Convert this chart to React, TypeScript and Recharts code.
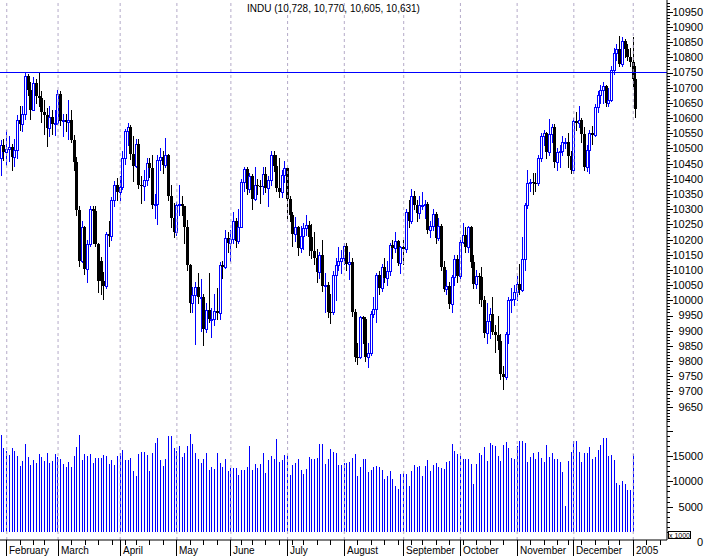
import React from "react"
import { ComposedChart, Bar, XAxis, YAxis, ReferenceLine } from "recharts"

// [day, open, high, low, close, volume (x 1000)]
type Row = [number, number, number, number, number, number | null]

const jan2004: Row[] = [
  [29, 10468, 10528, 10412, 10510, 19100],
  [30, 10510, 10530, 10462, 10488, 16600],
]

const feb2004: Row[] = [
  [2, 10488, 10560, 10444, 10499, 16000],
  [3, 10499, 10540, 10458, 10505, 15100],
  [4, 10505, 10514, 10430, 10471, 16500],
  [5, 10471, 10530, 10442, 10496, 16000],
  [6, 10496, 10610, 10470, 10593, 15000],
  [9, 10593, 10640, 10562, 10579, 13100],
  [10, 10579, 10640, 10556, 10614, 14000],
  [11, 10614, 10748, 10598, 10738, 17400],
  [12, 10738, 10745, 10675, 10694, 14900],
  [13, 10694, 10718, 10598, 10628, 13200],
  [17, 10628, 10735, 10625, 10715, 14200],
  [18, 10715, 10728, 10650, 10672, 13700],
  [19, 10672, 10753, 10640, 10665, 15400],
  [20, 10665, 10690, 10588, 10619, 14800],
  [23, 10619, 10660, 10548, 10610, 14000],
  [24, 10610, 10632, 10508, 10566, 15500],
  [25, 10566, 10640, 10540, 10602, 13700],
  [26, 10602, 10625, 10548, 10580, 14000],
  [27, 10580, 10628, 10545, 10584, 15400],
]

const mar2004: Row[] = [
  [1, 10584, 10692, 10580, 10678, 14900],
  [2, 10678, 10690, 10578, 10591, 14400],
  [3, 10591, 10612, 10540, 10593, 13400],
  [4, 10593, 10612, 10558, 10588, 12800],
  [5, 10588, 10660, 10532, 10595, 13900],
  [8, 10595, 10628, 10520, 10529, 12800],
  [9, 10529, 10545, 10430, 10457, 15000],
  [10, 10457, 10472, 10282, 10296, 16800],
  [11, 10296, 10312, 10112, 10128, 19100],
  [12, 10130, 10262, 10125, 10240, 14200],
  [15, 10240, 10245, 10088, 10102, 15400],
  [16, 10102, 10200, 10060, 10184, 15000],
  [17, 10184, 10312, 10180, 10300, 15300],
  [18, 10300, 10312, 10188, 10295, 13700],
  [19, 10295, 10310, 10178, 10186, 14700],
  [22, 10186, 10190, 10028, 10064, 14700],
  [23, 10130, 10142, 10020, 10063, 14700],
  [24, 10063, 10092, 10005, 10048, 15200],
  [25, 10048, 10226, 10040, 10218, 15000],
  [26, 10218, 10262, 10180, 10212, 13500],
  [29, 10212, 10340, 10200, 10329, 14200],
  [30, 10329, 10392, 10310, 10381, 13300],
  [31, 10381, 10402, 10330, 10357, 15000],
]

const apr2004: Row[] = [
  [1, 10357, 10410, 10330, 10373, 15500],
  [2, 10373, 10490, 10365, 10470, 16200],
  [5, 10470, 10565, 10450, 10558, 14200],
  [6, 10558, 10585, 10510, 10570, 14200],
  [7, 10570, 10578, 10465, 10481, 14700],
  [8, 10481, 10540, 10392, 10442, 12000],
  [12, 10442, 10530, 10440, 10515, 11100],
  [13, 10515, 10530, 10370, 10381, 15400],
  [14, 10381, 10410, 10320, 10377, 15700],
  [15, 10377, 10430, 10330, 10397, 15800],
  [16, 10397, 10470, 10380, 10452, 15200],
  [19, 10452, 10470, 10405, 10437, 12000],
  [20, 10437, 10480, 10305, 10314, 15500],
  [21, 10314, 10350, 10270, 10318, 17600],
  [22, 10318, 10478, 10252, 10461, 18600],
  [23, 10461, 10500, 10430, 10472, 14200],
  [26, 10472, 10490, 10420, 10444, 13000],
  [27, 10444, 10533, 10440, 10478, 14400],
  [28, 10478, 10482, 10330, 10342, 18900],
  [29, 10342, 10380, 10240, 10272, 18900],
  [30, 10272, 10320, 10210, 10225, 16600],
]

const may2004: Row[] = [
  [3, 10225, 10325, 10215, 10314, 16000],
  [4, 10314, 10380, 10280, 10317, 17000],
  [5, 10317, 10345, 10280, 10310, 14900],
  [6, 10310, 10312, 10190, 10241, 15500],
  [7, 10241, 10265, 10100, 10117, 17000],
  [10, 10117, 10120, 9960, 9990, 19300],
  [11, 9990, 10045, 9960, 10019, 17400],
  [12, 10019, 10060, 9856, 10045, 15500],
  [13, 10045, 10090, 9990, 10010, 14400],
  [14, 10010, 10070, 9900, 10012, 13700],
  [17, 10012, 10020, 9852, 9906, 14400],
  [18, 9906, 9990, 9896, 9968, 15600],
  [19, 9968, 10090, 9930, 9937, 12200],
  [20, 9937, 9975, 9880, 9937, 12800],
  [21, 9937, 10020, 9920, 9966, 12400],
  [24, 9966, 10040, 9940, 9958, 15600],
  [25, 9958, 10125, 9940, 10117, 13700],
  [26, 10117, 10130, 10075, 10109, 12800],
  [27, 10109, 10230, 10105, 10205, 14400],
  [28, 10205, 10225, 10160, 10188, 12000],
]

const jun2004: Row[] = [
  [1, 10188, 10230, 10130, 10202, 12700],
  [2, 10202, 10290, 10190, 10262, 12700],
  [3, 10262, 10270, 10175, 10196, 12700],
  [4, 10196, 10300, 10190, 10242, 11300],
  [7, 10242, 10400, 10240, 10391, 12200],
  [8, 10391, 10440, 10360, 10432, 12200],
  [9, 10432, 10440, 10350, 10368, 12900],
  [10, 10368, 10420, 10355, 10410, 17000],
  [14, 10410, 10415, 10300, 10334, 12200],
  [15, 10334, 10440, 10330, 10380, 13500],
  [16, 10380, 10400, 10350, 10378, 12700],
  [17, 10378, 10395, 10320, 10377, 13500],
  [18, 10377, 10440, 10350, 10416, 15500],
  [21, 10416, 10440, 10355, 10371, 11600],
  [22, 10371, 10410, 10310, 10396, 14200],
  [23, 10396, 10490, 10380, 10479, 15000],
  [24, 10479, 10490, 10425, 10443, 14400],
  [25, 10443, 10480, 10360, 10371, 18400],
  [28, 10371, 10470, 10340, 10357, 13900],
  [29, 10357, 10430, 10340, 10413, 14200],
  [30, 10413, 10460, 10390, 10435, 15100],
]

const jul2004: Row[] = [
  [1, 10435, 10440, 10270, 10334, 15200],
  [2, 10334, 10345, 10260, 10282, 11300],
  [6, 10282, 10290, 10180, 10219, 13200],
  [7, 10219, 10275, 10195, 10240, 13700],
  [8, 10240, 10245, 10150, 10171, 14400],
  [9, 10171, 10245, 10160, 10213, 12200],
  [12, 10213, 10255, 10170, 10238, 11400],
  [13, 10238, 10280, 10215, 10247, 12400],
  [14, 10247, 10260, 10150, 10208, 14900],
  [15, 10208, 10250, 10140, 10163, 14400],
  [16, 10163, 10225, 10120, 10139, 14400],
  [19, 10139, 10170, 10060, 10094, 14700],
  [20, 10094, 10160, 10075, 10149, 17300],
  [21, 10149, 10200, 10030, 10046, 17300],
  [22, 10046, 10090, 9960, 10050, 13500],
  [23, 10050, 10060, 9945, 9962, 14500],
  [26, 9962, 10020, 9925, 9961, 16300],
  [27, 9961, 10095, 9955, 10085, 15800],
  [28, 10085, 10140, 10000, 10117, 15600],
  [29, 10117, 10175, 10100, 10129, 13200],
  [30, 10129, 10165, 10090, 10140, 13200],
]

const aug2004: Row[] = [
  [2, 10140, 10190, 10120, 10179, 13600],
  [3, 10179, 10190, 10100, 10120, 13700],
  [4, 10120, 10160, 10070, 10126, 13900],
  [5, 10126, 10140, 9950, 9963, 14700],
  [6, 9963, 9970, 9800, 9815, 15400],
  [9, 9815, 9860, 9790, 9814, 11100],
  [10, 9814, 9950, 9810, 9944, 12900],
  [11, 9944, 9950, 9860, 9938, 14400],
  [12, 9938, 9945, 9800, 9814, 14400],
  [13, 9814, 9860, 9780, 9825, 11900],
  [16, 9825, 9965, 9820, 9954, 12200],
  [17, 9954, 10010, 9945, 9972, 12900],
  [18, 9972, 10090, 9930, 10083, 13000],
  [19, 10083, 10095, 10020, 10040, 12900],
  [20, 10040, 10120, 10030, 10110, 12200],
  [23, 10110, 10140, 10060, 10073, 10500],
  [24, 10073, 10130, 10050, 10098, 11100],
  [25, 10098, 10190, 10085, 10181, 12000],
  [26, 10181, 10200, 10140, 10173, 10400],
  [27, 10173, 10225, 10160, 10195, 9000],
  [30, 10195, 10200, 10115, 10122, 8500],
  [31, 10122, 10180, 10090, 10174, 11400],
]

const sep2004: Row[] = [
  [1, 10174, 10200, 10120, 10168, 11700],
  [2, 10168, 10300, 10160, 10290, 11400],
  [3, 10290, 10330, 10240, 10260, 9100],
  [7, 10260, 10365, 10255, 10342, 12100],
  [8, 10342, 10360, 10300, 10313, 13300],
  [9, 10313, 10330, 10260, 10289, 12800],
  [10, 10289, 10345, 10270, 10314, 13100],
  [13, 10314, 10355, 10300, 10314, 11100],
  [14, 10314, 10330, 10270, 10318, 13000],
  [15, 10318, 10325, 10220, 10231, 14300],
  [16, 10231, 10260, 10210, 10244, 12100],
  [17, 10244, 10300, 10230, 10284, 13200],
  [20, 10284, 10290, 10190, 10204, 13700],
  [21, 10204, 10270, 10200, 10244, 12800],
  [22, 10244, 10250, 10100, 10109, 12600],
  [23, 10109, 10130, 10030, 10038, 12400],
  [24, 10038, 10100, 10020, 10047, 13900],
  [27, 10047, 10060, 9975, 9988, 14000],
  [28, 9988, 10085, 9960, 10077, 17400],
  [29, 10077, 10150, 10050, 10136, 15900],
  [30, 10136, 10150, 10060, 10080, 15300],
]

const oct2004: Row[] = [
  [1, 10080, 10200, 10075, 10192, 15600],
  [4, 10192, 10255, 10190, 10216, 14500],
  [5, 10216, 10240, 10160, 10177, 14500],
  [6, 10177, 10245, 10160, 10240, 14500],
  [7, 10240, 10245, 10110, 10125, 13400],
  [8, 10125, 10150, 10040, 10055, 9500],
  [11, 10055, 10100, 10040, 10081, 13500],
  [12, 10081, 10090, 9990, 10077, 15600],
  [13, 10077, 10110, 9980, 10002, 15200],
  [14, 10002, 10015, 9880, 9894, 16800],
  [15, 9894, 9990, 9860, 9933, 14100],
  [18, 9933, 9975, 9875, 9956, 17500],
  [19, 9956, 10010, 9890, 9897, 17200],
  [20, 9897, 9920, 9830, 9886, 17000],
  [21, 9886, 9950, 9840, 9865, 15000],
  [22, 9865, 9890, 9740, 9757, 14000],
  [25, 9757, 9785, 9708, 9749, 17200],
  [26, 9749, 9895, 9740, 9888, 17800],
  [27, 9888, 10010, 9860, 10002, 16600],
  [28, 10002, 10040, 9960, 10004, 14700],
  [29, 10004, 10050, 9985, 10027, 14400],
]

const nov2004: Row[] = [
  [1, 10027, 10080, 10000, 10054, 17000],
  [2, 10054, 10120, 10020, 10035, 17900],
  [3, 10035, 10210, 10030, 10137, 18000],
  [4, 10137, 10320, 10100, 10315, 17600],
  [5, 10315, 10430, 10305, 10387, 13900],
  [8, 10387, 10400, 10360, 10391, 14900],
  [9, 10391, 10420, 10350, 10386, 15500],
  [10, 10386, 10420, 10360, 10385, 14400],
  [11, 10385, 10480, 10380, 10469, 15700],
  [12, 10469, 10550, 10460, 10540, 14700],
  [15, 10540, 10560, 10510, 10550, 13900],
  [16, 10550, 10555, 10470, 10487, 17200],
  [17, 10487, 10598, 10480, 10549, 14900],
  [18, 10549, 10580, 10520, 10572, 15500],
  [19, 10572, 10580, 10440, 10456, 14400],
  [22, 10456, 10500, 10430, 10489, 14400],
  [23, 10489, 10510, 10440, 10493, 13800],
  [24, 10493, 10540, 10480, 10520, 11900],
  [26, 10520, 10535, 10500, 10522, 5100],
  [29, 10522, 10550, 10440, 10475, 14100],
  [30, 10475, 10490, 10420, 10428, 15800],
]

const dec2004: Row[] = [
  [1, 10428, 10600, 10420, 10590, 17900],
  [2, 10590, 10620, 10560, 10585, 18000],
  [3, 10585, 10640, 10570, 10592, 15800],
  [6, 10592, 10600, 10520, 10547, 13900],
  [7, 10547, 10570, 10430, 10440, 15500],
  [8, 10440, 10510, 10425, 10494, 15500],
  [9, 10494, 10560, 10420, 10552, 16700],
  [10, 10552, 10575, 10515, 10543, 14400],
  [13, 10543, 10645, 10540, 10638, 14900],
  [14, 10638, 10690, 10620, 10676, 16100],
  [15, 10676, 10710, 10650, 10691, 17200],
  [16, 10691, 10720, 10650, 10705, 18500],
  [17, 10705, 10710, 10640, 10649, 18500],
  [20, 10649, 10700, 10640, 10661, 15000],
  [21, 10661, 10770, 10655, 10759, 15100],
  [22, 10759, 10830, 10745, 10815, 14200],
  [23, 10815, 10845, 10790, 10828, 9700],
  [27, 10828, 10870, 10770, 10777, 9300],
  [28, 10777, 10868, 10770, 10854, 10100],
  [29, 10854, 10860, 10800, 10829, 9500],
  [30, 10829, 10845, 10790, 10800, 8300],
  [31, 10800, 10830, 10770, 10783, 8200],
]

const jan2005: Row[] = [
  [3, 10783, 10868, 10705, 10729, 15400],
  [4, 10728, 10770, 10605, 10631, null],
]

// sessions after the last bar, left empty so the axis runs on
const jan2005Ahead = [5, 6, 7, 10, 11, 12, 13, 14, 18, 19, 20]

const monthLabels = ["February", "March", "April", "May", "June", "July", "August", "September", "October", "November", "December", "2005"]

const resistance = 10750

const BLUE = "#0000ff"
const GRID = "#b4aac8"
const AXIS_X = 667
const PRICE_H = 420
const VOL_H = 136
const VOL_PLOT_H = 120

const months: [string, Row[]][] = [
  ["2004-01", jan2004],
  ["2004-02", feb2004],
  ["2004-03", mar2004],
  ["2004-04", apr2004],
  ["2004-05", may2004],
  ["2004-06", jun2004],
  ["2004-07", jul2004],
  ["2004-08", aug2004],
  ["2004-09", sep2004],
  ["2004-10", oct2004],
  ["2004-11", nov2004],
  ["2004-12", dec2004],
  ["2005-01", jan2005],
]

const pad = (n: number) => String(n).padStart(2, "0")

const data: any[] = []
const monthStarts: string[] = []
months.forEach(([ym, rows], mi) => {
  rows.forEach(([d, open, high, low, close, volume], i) => {
    const date = `${ym}-${pad(d)}`
    if (i === 0 && mi > 0) monthStarts.push(date)
    data.push({ date, open, high, low, close, range: [low, high], volume })
  })
})
const last = data[data.length - 1]
jan2005Ahead.forEach((d) => {
  data.push({ date: `2005-01-${pad(d)}`, open: null, high: null, low: null, close: null, range: null, volume: null })
})

const weekOf = (date: string) => Math.floor((Date.parse(date) / 86400000 + 3) / 7)
const dateTicks = data
  .filter((r, i) => i > 0 && (weekOf(r.date) !== weekOf(data[i - 1].date) || monthStarts.includes(r.date)))
  .map((r) => r.date)

const priceTicks = Array.from({ length: 138 }, (_, i) => 9610 + i * 10)
const volumeTicks = Array.from({ length: 23 }, (_, i) => i * 1000)

const fmt = (v: number) => v.toLocaleString("en-US")
const title = `INDU (${fmt(last.open)}, ${fmt(last.high)}, ${fmt(last.low)}, ${fmt(last.close)})`

const labelFont = "'Liberation Sans Narrow', 'Liberation Sans', Arial, sans-serif"
const textFont = "'Liberation Sans', Arial, sans-serif"

function Candle(props: any) {
  const { x, y, width, height, payload } = props
  if (!payload || payload.open == null || !isFinite(y) || !isFinite(height)) return null
  const { open, high, low, close } = payload
  const top = Math.min(y, y + height)
  const h = Math.abs(height)
  const k = h / (high - low)
  const py = (v: number) => Math.round(top + (high - v) * k)
  const cx = Math.floor(x + width / 2)
  const up = close >= open
  const color = up ? BLUE : "#000"
  const b1 = Math.min(py(open), py(close))
  const b2 = Math.max(py(open), py(close))
  return (
    <g>
      <line x1={cx + 0.5} x2={cx + 0.5} y1={py(high)} y2={py(low) + 1} stroke={color} />
      {up ? (
        <rect x={cx - 0.5} y={b1 + 0.5} width={2} height={Math.max(b2 - b1, 1)} fill="#fff" stroke={BLUE} />
      ) : (
        <rect x={cx - 1} y={b1} width={3} height={Math.max(b2 - b1, 1)} fill="#000" />
      )}
    </g>
  )
}

function VolumeBar(props: any) {
  const { x, y, width, height, payload } = props
  if (!payload || payload.volume == null || !isFinite(y)) return null
  const cx = Math.floor(x + width / 2)
  return <line x1={cx + 0.5} x2={cx + 0.5} y1={Math.round(y)} y2={Math.round(y + height)} stroke={BLUE} />
}

function PriceTick(props: any) {
  const { y, payload } = props
  const v = payload.value
  const major = v % 50 === 0
  const yy = Math.round(y) + 0.5
  return (
    <g>
      <line x1={AXIS_X} x2={AXIS_X + (major ? 6 : 3)} y1={yy} y2={yy} stroke="#000" />
      {major && v >= 9650 && v <= 10950 && (
        <text x={703} y={y} dy="0.36em" textAnchor="end" fontSize={11} fontFamily={labelFont} fill="#000">
          {v}
        </text>
      )}
    </g>
  )
}

function VolumeTick(props: any) {
  const { y, payload } = props
  const v = payload.value
  const major = v % 5000 === 0
  const yy = Math.round(y) + 0.5
  return (
    <g>
      <line x1={AXIS_X} x2={AXIS_X + (major ? 6 : 3)} y1={yy} y2={yy} stroke="#000" />
      {v === 0 && (
        <g>
          <rect x={668.5} y={111.5} width={22} height={7} fill="#fff" stroke="#000" />
          <text x={679.5} y={117.5} textAnchor="middle" fontSize={7} fontFamily={textFont} fill="#000">
            x 1000
          </text>
          <text x={703} y={122} dy="0.36em" textAnchor="end" fontSize={11} fontFamily={labelFont} fill="#000">
            0
          </text>
        </g>
      )}
      {major && v > 0 && v <= 15000 && (
        <text x={703} y={y} dy="0.36em" textAnchor="end" fontSize={11} fontFamily={labelFont} fill="#000">
          {v}
        </text>
      )}
    </g>
  )
}

function DateTick(props: any) {
  const { x, payload } = props
  const idx = monthStarts.indexOf(payload.value)
  const xx = Math.floor(x) + 0.5
  if (idx >= 0) {
    return (
      <g>
        <line x1={xx} x2={xx} y1={VOL_PLOT_H} y2={VOL_H} stroke="#000" />
        <text x={xx + 2.5} y={VOL_H - 2} fontSize={10} fontFamily={textFont} fill="#000">
          {monthLabels[idx]}
        </text>
      </g>
    )
  }
  return <line x1={xx} x2={xx} y1={VOL_PLOT_H} y2={VOL_PLOT_H + 5} stroke="#000" />
}

export default function App() {
  return (
    <div style={{ position: "absolute", left: 0, top: 0, width: 707, height: 556, background: "#fff" }}>
      <div style={{ position: "absolute", top: 0 }}>
        <ComposedChart width={707} height={PRICE_H} data={data} margin={{ top: 0, right: 0, bottom: 0, left: 0 }}>
          <XAxis dataKey="date" hide />
          <YAxis
            orientation="right"
            width={40}
            domain={[9606, 10988.7]}
            allowDataOverflow
            ticks={priceTicks}
            interval={0}
            tick={<PriceTick />}
            tickLine={false}
            axisLine={{ stroke: "#000" }}
          />
          {monthStarts.map((d) => (
            <ReferenceLine key={d} x={d} stroke={GRID} strokeDasharray="3 3" />
          ))}
          <ReferenceLine y={resistance} stroke={BLUE} />
          <Bar dataKey="range" shape={Candle} isAnimationActive={false} />
        </ComposedChart>
      </div>
      <div style={{ position: "absolute", top: PRICE_H }}>
        <ComposedChart width={707} height={VOL_H} data={data} margin={{ top: 0, right: 0, bottom: 0, left: 0 }}>
          <XAxis
            dataKey="date"
            height={VOL_H - VOL_PLOT_H}
            ticks={dateTicks}
            interval={0}
            tick={<DateTick />}
            tickLine={false}
            axisLine={{ stroke: "#000" }}
          />
          <YAxis
            orientation="right"
            width={40}
            domain={[-1579, 22104]}
            allowDataOverflow
            ticks={volumeTicks}
            interval={0}
            tick={<VolumeTick />}
            tickLine={false}
            axisLine={{ stroke: "#000" }}
          />
          {monthStarts.map((d) => (
            <ReferenceLine key={d} x={d} stroke={GRID} strokeDasharray="3 3" />
          ))}
          <Bar dataKey="volume" shape={VolumeBar} isAnimationActive={false} />
        </ComposedChart>
      </div>
      <div
        style={{
          position: "absolute",
          top: 3,
          left: 0,
          width: AXIS_X,
          textAlign: "center",
          fontFamily: textFont,
          fontSize: 10,
          lineHeight: "12px",
          color: "#000",
        }}
      >
        {title}
      </div>
    </div>
  )
}
